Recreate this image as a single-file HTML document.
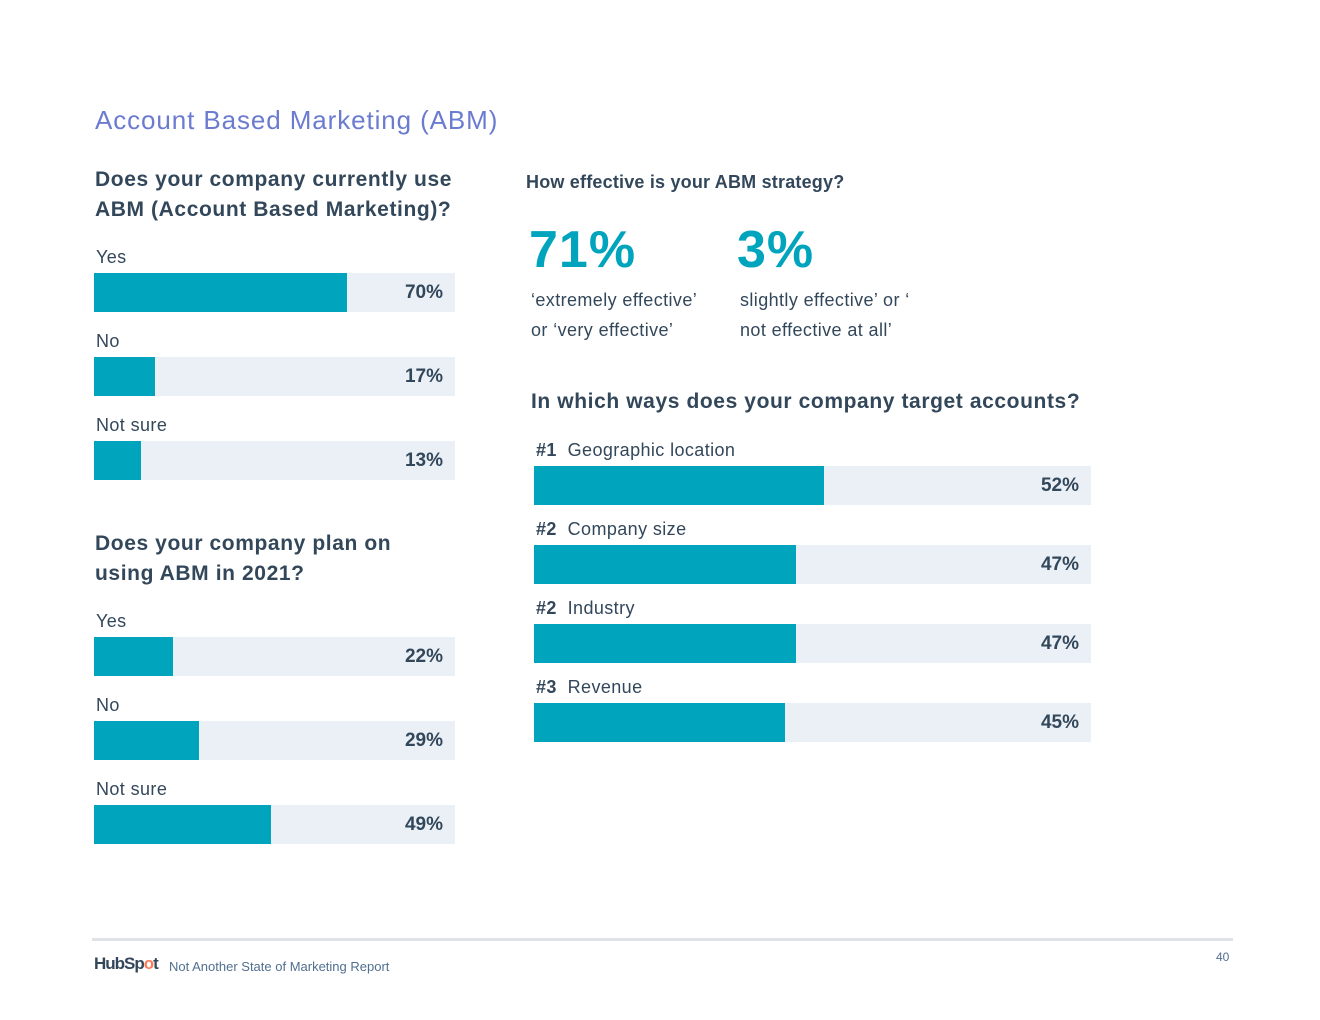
<!DOCTYPE html>
<html><head><meta charset="utf-8"><style>
body{margin:0;width:1320px;height:1020px;background:#fff;font-family:"Liberation Sans",sans-serif;position:relative;overflow:hidden}
.a{position:absolute;white-space:nowrap}
.title{left:95px;top:105px;font-size:26px;color:#6b7bd0;letter-spacing:0.9px}
.q{font-size:21px;font-weight:bold;color:#33475b;line-height:30px;letter-spacing:0.6px}
.lbl{font-size:18px;color:#33475b;letter-spacing:0.4px}
.track{position:absolute;background:#eaf0f6}
.fill{position:absolute;left:0;top:0;height:100%;background:#00a4bd}
.val{position:absolute;right:12px;top:0;font-size:19px;font-weight:bold;color:#33475b}
.big{font-size:52px;font-weight:bold;color:#00a4bd;letter-spacing:1px}
.sub{font-size:18px;color:#33475b;line-height:30px;letter-spacing:0.4px}
</style></head><body>
<div class="a title">Account Based Marketing (ABM)</div>
<div class="a q" style="left:95px;top:165px">Does your company currently use<br>ABM (Account Based Marketing)?</div>
<div class="a q" style="left:95px;top:529px">Does your company plan on<br>using ABM in 2021?</div>
<div class="a q" style="left:526px;top:167px;font-size:18px;letter-spacing:0.2px">How effective is your ABM strategy?</div>
<div class="a big" style="left:529px;top:220px">71%</div>
<div class="a big" style="left:737px;top:220px">3%</div>
<div class="a sub" style="left:531px;top:285px">‘extremely effective’<br>or ‘very effective’</div>
<div class="a sub" style="left:740px;top:285px">slightly effective’ or ‘<br>not effective at all’</div>
<div class="a q" style="left:531px;top:387px">In which ways does your company target accounts?</div>
<div id="charts"></div>
<div class="a" style="left:92px;top:938px;width:1141px;height:3px;background:#dfe3e8"></div>
<div class="a" style="left:94px;top:954px;font-size:17px;font-weight:bold;color:#33475b;letter-spacing:-1px">Hub<span style="color:#33475b">Sp</span><span style="color:#ff7a59">o</span>t</div>
<div class="a" style="left:169px;top:959px;font-size:13px;color:#516f90">Not Another State of Marketing Report</div>
<div class="a" style="left:1216px;top:950px;font-size:12px;color:#516f90">40</div>
<script>
const useLabels=["Yes","No","Not sure"];
const useValues=[70,17,13];
const planLabels=["Yes","No","Not sure"];
const planValues=[22,29,49];
const targetRanks=["#1","#2","#2","#3"];
const targetLabels=["Geographic location","Company size","Industry","Revenue"];
const targetValues=[52,47,47,45];
const root=document.getElementById('charts');
function draw(labels,values,ranks,x0,w,y0,step,barY,h,name){
  labels.forEach((l,i)=>{
    const y=y0+i*step;
    const t=document.createElement('div');
    t.className='a lbl';t.style.left=(x0+2)+'px';t.style.top=(y)+'px';
    t.innerHTML=ranks?'<b>'+ranks[i]+'</b>&nbsp;&nbsp;'+l:l;
    
    
    root.appendChild(t);
    const tr=document.createElement('div');
    tr.className='track';tr.style.left=x0+'px';tr.style.top=(y+barY)+'px';tr.style.width=w+'px';tr.style.height=h+'px';
    
    
    const f=document.createElement('div');f.className='fill';f.style.width=(w*values[i]/100)+'px';
    
    
    const v=document.createElement('div');v.className='val';v.style.lineHeight=h+'px';v.textContent=values[i]+'%';
    
    
    tr.appendChild(f);tr.appendChild(v);root.appendChild(tr);
  });
}
draw(useLabels,useValues,null,94,361,247,84,26,39,'current-use');
draw(planLabels,planValues,null,94,361,611,84,26,39,'plan-2021');
draw(targetLabels,targetValues,targetRanks,534,557,440,79,26,39,'target');
</script>
</body></html>
